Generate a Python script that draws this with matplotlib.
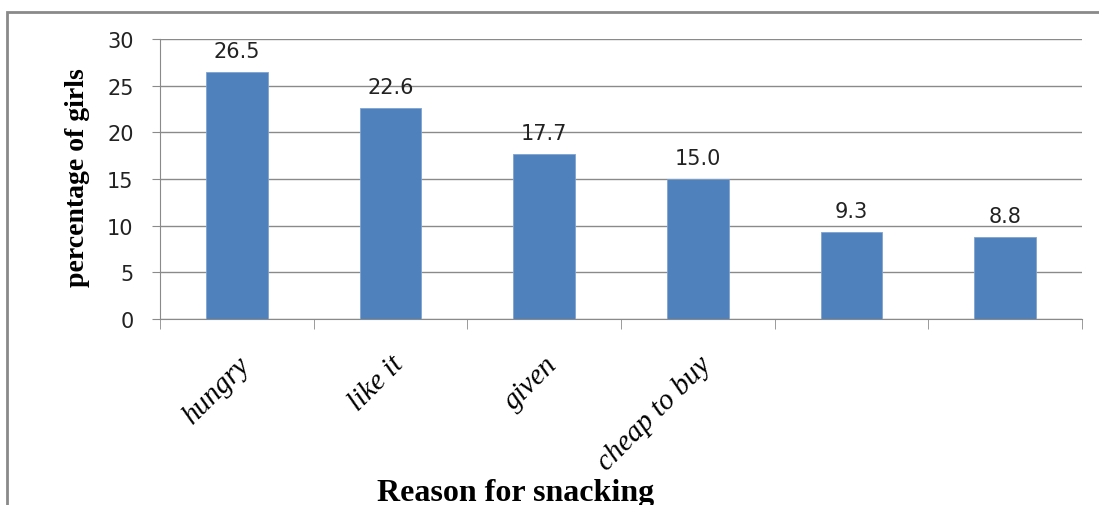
import matplotlib.pyplot as plt
import numpy as np
from matplotlib.patches import Rectangle

reasons = ["hungry", "like it", "given", "cheap to buy", "", ""]
percent = [26.5, 22.6, 17.7, 15.0, 9.3, 8.8]
y_ticks = [0, 5, 10, 15, 20, 25, 30]

fig = plt.figure(figsize=(10.99, 5.06), dpi=100)
ax = fig.add_axes([160 / 1099, 1 - 320 / 506, 922 / 1099, 280 / 506])

x = np.arange(len(reasons))
bars = ax.bar(x, percent, width=0.4, color="#4F81BD", edgecolor="#7FA3D0",
              linewidth=0.6, zorder=3)

for b, v in zip(bars, percent):
    ax.annotate("%.1f" % v, (b.get_x() + b.get_width() / 2, v),
                xytext=(0, 8), textcoords="offset points",
                ha="center", va="bottom", fontsize=15, color="#222222",
                family="DejaVu Sans")

ax.set_xlim(-0.5, len(reasons) - 0.5)
ax.set_ylim(0, 30)
ax.set_yticks(y_ticks)
ax.set_yticklabels([str(t) for t in y_ticks], fontsize=15, family="DejaVu Sans",
                   color="#222222")
ax.grid(axis="y", color="#8a8a8a", linewidth=1.0, zorder=0)

ax.set_xticks(x)
ax.set_xticklabels(reasons, rotation=45, ha="right", va="top",
                   rotation_mode="anchor", fontsize=21,
                   family="Liberation Serif", style="italic")
ax.tick_params(axis="x", length=0, pad=23)
ax.set_xticks(np.arange(len(reasons) + 1) - 0.5, minor=True)
ax.tick_params(axis="x", which="minor", length=7, color="#8a8a8a", direction="out")
ax.tick_params(axis="y", length=6, color="#8a8a8a", direction="out", pad=13)

for s in ["top", "right"]:
    ax.spines[s].set_visible(False)
for s in ["left", "bottom"]:
    ax.spines[s].set_color("#8a8a8a")

fig.text(77 / 1099, 1 - 178 / 506, "percentage of girls", rotation=90,
         ha="center", va="center", fontsize=20, fontweight="bold",
         family="Liberation Serif")
fig.text(516 / 1099, 5 / 506, "Reason for snacking", ha="center", va="baseline",
         fontsize=23, fontweight="bold", family="Liberation Serif")

# outer chart border, runs off the right and bottom edges
fig.patches.append(Rectangle((7 / 1099, -0.2), 1.2, 1.2 - 13 / 506,
                             transform=fig.transFigure, fill=False,
                             edgecolor="#8a8a8a", linewidth=2))

fig.savefig("out.png", dpi=100)
